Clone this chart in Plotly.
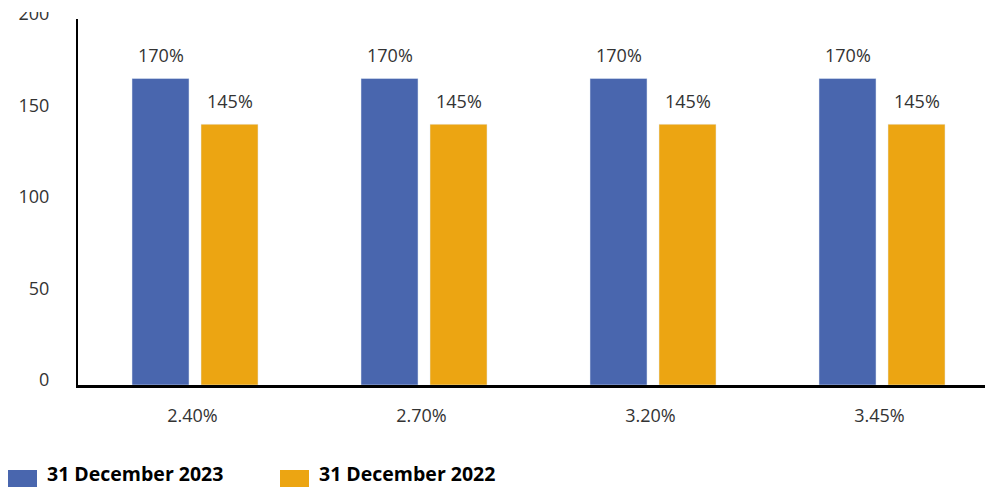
import plotly.graph_objects as go

categories = ["2.40%", "2.70%", "3.20%", "3.45%"]
series_names = ["31 December 2023", "31 December 2022"]
values_2023 = [167.5, 167.5, 167.5, 167.5]
values_2022 = [142.5, 142.5, 142.5, 142.5]
labels_2023 = ["170%", "170%", "170%", "170%"]
labels_2022 = ["145%", "145%", "145%", "145%"]
y_ticks = [0, 50, 100, 150, 200]

BLUE = "#4966AE"
ORANGE = "#ECA512"
TXT = "#333333"
FONT = "Open Sans"

W, H = 985, 488
L, R, T, B = 78, 0, 19, 103
PW, PH = W - L - R, H - T - B

def px(xp):
    return (xp - L) / PW

def py(yp):
    return (H - B - yp) / PH

xs = list(range(len(categories)))
bw = 0.249
off_a = -0.2642
off_b = 0.0371

fig = go.Figure()
fig.add_trace(go.Bar(x=xs, y=values_2023, name=series_names[0], marker_color=BLUE,
                     width=bw, offset=off_a, showlegend=False, hoverinfo="skip"))
fig.add_trace(go.Bar(x=xs, y=values_2022, name=series_names[1], marker_color=ORANGE,
                     width=bw, offset=off_b, showlegend=False, hoverinfo="skip"))

annotations = []
for i in xs:
    annotations.append(dict(x=i + off_a + bw / 2, y=values_2023[i], xref="x", yref="y",
                            text=labels_2023[i], showarrow=False, yshift=23,
                            font=dict(family=FONT, size=18, color=TXT)))
    annotations.append(dict(x=i + off_b + bw / 2, y=values_2022[i], xref="x", yref="y",
                            text=labels_2022[i], showarrow=False, yshift=23,
                            font=dict(family=FONT, size=18, color=TXT)))

shapes = []
legend_items = [(8, 37, 46, BLUE, series_names[0]), (280, 309, 318, ORANGE, series_names[1])]
for x0, x1, xt, col, name in legend_items:
    shapes.append(dict(type="rect", xref="paper", yref="paper", x0=px(x0), x1=px(x1),
                       y0=py(487), y1=py(470), fillcolor=col, line=dict(width=0), layer="above"))
    annotations.append(dict(x=px(xt), y=py(488), xref="paper", yref="paper", text="<b>" + name + "</b>",
                            showarrow=False, xanchor="left", yanchor="bottom", borderpad=0,
                            font=dict(family=FONT, size=19.5, color="#000000")))

# white band at the very top (reference is cropped there)
shapes.append(dict(type="rect", xref="paper", yref="paper", x0=px(0), x1=px(72),
                   y0=py(12), y1=py(-5), fillcolor="white", line=dict(width=0), layer="above"))

fig.update_layout(
    width=W, height=H,
    margin=dict(l=L, r=R, t=T, b=B, pad=0),
    paper_bgcolor="white", plot_bgcolor="white",
    barmode="overlay",
    showlegend=False,
    annotations=annotations,
    shapes=shapes,
    xaxis=dict(range=[-0.5, -0.5 + PW / 229], tickmode="array", tickvals=xs, ticktext=categories,
               showgrid=False, zeroline=False, showline=True, linecolor="black", linewidth=2.5,
               ticks="", ticklabelstandoff=13,
               tickfont=dict(family=FONT, size=18, color=TXT), fixedrange=True),
    yaxis=dict(range=[0, 200], tickmode="array", tickvals=y_ticks,
               showgrid=False, zeroline=False, showline=True, linecolor="black", linewidth=2,
               ticks="", ticklabelstandoff=23, ticklabelshift=-5,
               tickfont=dict(family=FONT, size=18, color=TXT), fixedrange=True),
)

fig.write_html("out.html", config={"displayModeBar": False},
               post_script="document.body.style.margin='0';document.body.style.overflow='hidden';")
